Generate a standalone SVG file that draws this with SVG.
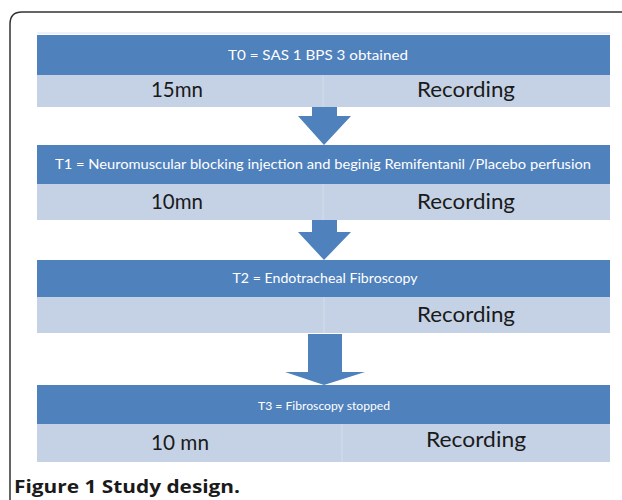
<svg xmlns="http://www.w3.org/2000/svg" width="622" height="500" viewBox="0 0 622 500">
<style>
.hdr{fill:#4F81BD}
.row{fill:#C5D2E5}
.div{stroke:#D3DDEB;stroke-width:1}
.ht{font-family:Lato,"Liberation Sans",Arial,sans-serif;fill:#ffffff;text-anchor:middle}
.rt{font-family:Lato,"Liberation Sans",Arial,sans-serif;font-size:22px;fill:#1a1a1a;text-anchor:middle}
.arr{fill:#4F81BD}
</style>
<rect x="0" y="0" width="622" height="500" fill="#ffffff"/>
<path d="M10,510 L10,24 Q10,12 22,12 L630,12" fill="none" stroke="#333333" stroke-width="1.5"/>
<line x1="37" y1="33" x2="610" y2="33" stroke="#DCE6F2" stroke-width="1"/>
<g id="t0">
<rect class="hdr" x="37" y="35" width="573" height="40"/>
<text class="ht" x="318" y="60" font-size="13" textLength="180" lengthAdjust="spacingAndGlyphs">T0  = SAS 1 BPS 3 obtained</text>
<rect class="row" x="37" y="75" width="573" height="32"/>
<line class="div" x1="323" y1="75" x2="323" y2="107"/>
<text class="rt" x="177" y="97" textLength="52" lengthAdjust="spacingAndGlyphs">15mn</text>
<text class="rt" x="466" y="97" textLength="98" lengthAdjust="spacingAndGlyphs">Recording</text>
</g>
<g id="t1">
<rect class="hdr" x="37" y="145" width="573" height="39"/>
<text class="ht" x="323" y="169" font-size="13" textLength="536" lengthAdjust="spacingAndGlyphs">T1 = Neuromuscular blocking  injection and beginig  Remifentanil /Placebo perfusion</text>
<rect class="row" x="37" y="184" width="573" height="36"/>
<line class="div" x1="323" y1="184" x2="323" y2="220"/>
<text class="rt" x="177" y="209" textLength="52" lengthAdjust="spacingAndGlyphs">10mn</text>
<text class="rt" x="466" y="209" textLength="98" lengthAdjust="spacingAndGlyphs">Recording</text>
</g>
<g id="t2">
<rect class="hdr" x="37" y="260" width="573" height="37"/>
<text class="ht" x="325" y="283" font-size="13" textLength="185" lengthAdjust="spacingAndGlyphs">T2 = Endotracheal Fibroscopy</text>
<rect class="row" x="37" y="297" width="573" height="36"/>
<line class="div" x1="324" y1="297" x2="324" y2="333"/>
<text class="rt" x="466" y="322" textLength="98" lengthAdjust="spacingAndGlyphs">Recording</text>
</g>
<g id="t3">
<rect class="hdr" x="37" y="385" width="573" height="39"/>
<text class="ht" x="324" y="410" font-size="11" textLength="132" lengthAdjust="spacingAndGlyphs">T3 = Fibroscopy stopped</text>
<rect class="row" x="37" y="424" width="573" height="38"/>
<line class="div" x1="342" y1="424" x2="342" y2="462"/>
<text class="rt" x="180" y="450" textLength="58" lengthAdjust="spacingAndGlyphs">10 mn</text>
<text class="rt" x="476" y="447" textLength="100" lengthAdjust="spacingAndGlyphs">Recording</text>
</g>
<g id="connectors">
<polygon class="arr" points="312,107 337,107 337,116 351,116 324,145 298,116 312,116"/>
<polygon class="arr" points="312,220 337,220 337,232 351,232 324,260 298,232 312,232"/>
<polygon class="arr" points="308,334 342,334 342,372 365,372 324,385 285,372 308,372"/>
</g>
<text x="14" y="493" font-family="'Open Sans','Liberation Sans',Arial,sans-serif" font-weight="bold" font-size="18" fill="#1a1a1a" textLength="226" lengthAdjust="spacingAndGlyphs">Figure 1 Study design.</text>
</svg>
